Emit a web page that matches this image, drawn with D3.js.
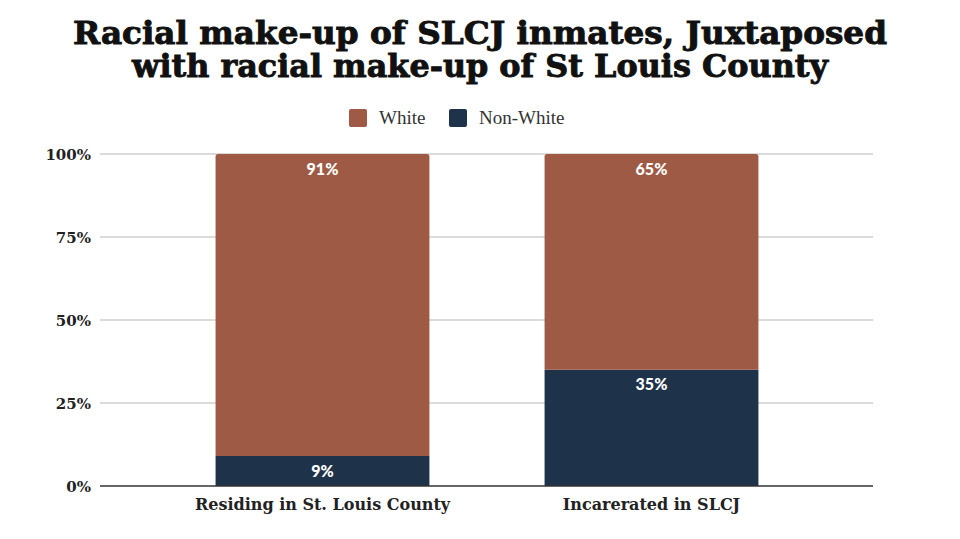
<!DOCTYPE html>
<html><head><meta charset="utf-8">
<script src="https://cdn.jsdelivr.net/npm/d3@7"></script>
<style>body{margin:0;background:#fff}svg{display:block}</style>
</head><body>
<svg id="c" width="960" height="539"></svg>
<script>
const categories = ["Residing in St. Louis County", "Incarerated in SLCJ"];
const seriesNames = ["Non-White", "White"];
const nonWhite = [9, 35];
const white = [91, 65];
const yTicks = [0, 25, 50, 75, 100];
const titleLines = ["Racial make-up of SLCJ inmates, Juxtaposed", "with racial make-up of St Louis County"];
const colors = {"White": "#9e5a45", "Non-White": "#1e3249"};

const svg = d3.select("#c");
const serif = "'DejaVu Serif', Georgia, serif";

// title
svg.selectAll("text.title").data(titleLines).join("text")
  .attr("class","title")
  .attr("x", 480).attr("y", (d,i)=> 44 + i*33)
  .attr("text-anchor","middle")
  .attr("font-family","'DejaVu Serif', serif")
  .attr("font-weight","bold")
  .attr("font-size", 31)
  .attr("fill","#111")
  .attr("stroke","#111").attr("stroke-width",0.9)
  .attr("textLength", (d,i)=> i===0 ? 814 : 696)
  .attr("lengthAdjust","spacingAndGlyphs")
  .text(d=>d);

// legend
const legendItems = [{name:"White", x:349}, {name:"Non-White", x:449}];
const lg = svg.selectAll("g.lg").data(legendItems).join("g").attr("class","lg")
  .attr("transform", d=>`translate(${d.x},109)`);
lg.append("rect").attr("width",18).attr("height",18).attr("rx",2).attr("fill", d=>colors[d.name]);
lg.append("text").attr("x",30).attr("y",15)
  .attr("font-family","'Liberation Serif', serif").attr("font-size",19).attr("fill","#333")
  .text(d=>d.name);

const x = d3.scaleBand().domain(categories).range([158, 816]).paddingInner(0.35).paddingOuter(0.175);
const y = d3.scaleLinear().domain([0,100]).range([486, 154]);

// gridlines
svg.append("g").selectAll("line").data(yTicks.filter(t=>t>0)).join("line")
  .attr("x1",100).attr("x2",873).attr("y1",d=>y(d)).attr("y2",d=>y(d))
  .attr("stroke","#cfcfcf").attr("stroke-width",1.5);

// y axis labels
const yAxis = d3.axisLeft(y).tickValues(yTicks).tickFormat(d=>d+"%").tickSize(0).tickPadding(0);
const ya = svg.append("g").attr("transform","translate(91,0)").call(yAxis);
ya.select(".domain").remove();
ya.selectAll("text").attr("font-family", serif).attr("font-weight","bold")
  .attr("font-size",15).attr("fill","#222").attr("dy","0.35em");

// stacked data
const rows = categories.map((c,i)=>({cat:c, "Non-White":nonWhite[i], "White":white[i]}));
const stack = d3.stack().keys(seriesNames)(rows);

const groups = svg.append("g").selectAll("g").data(stack).join("g").attr("fill", d=>colors[d.key]);
groups.selectAll("path").data(d=>d.map(v=>({v, key:d.key}))).join("path")
  .attr("d", d=>{
    const x0 = x(d.v.data.cat), w = x.bandwidth();
    const top = y(d.v[1]), bot = y(d.v[0]);
    const r = d.key==="White" ? 2.5 : 0;
    return `M${x0},${bot}V${top+r}Q${x0},${top} ${x0+r},${top}H${x0+w-r}Q${x0+w},${top} ${x0+w},${top+r}V${bot}Z`;
  });

// bar labels
stack.forEach(s=>{
  svg.append("g").selectAll("text").data(s).join("text")
    .attr("x", d=>x(d.data.cat)+x.bandwidth()/2)
    .attr("y", d=>y(d[1]) + 15)
    .attr("dy","0.35em")
    .attr("text-anchor","middle")
    .attr("font-family","Lato, 'Open Sans', sans-serif").attr("font-weight",900)
    .attr("font-size",16).attr("fill","#fff")
    .text(d=>(d[1]-d[0])+"%");
});

// baseline
svg.append("line").attr("x1",100).attr("x2",873).attr("y1",y(0)).attr("y2",y(0))
  .attr("stroke","#333").attr("stroke-width",1.5);

// x axis labels
const xAxis = d3.axisBottom(x).tickSize(0).tickPadding(0);
const xa = svg.append("g").attr("transform",`translate(0,${y(0)})`).call(xAxis);
xa.select(".domain").remove();
xa.selectAll("text").attr("font-family", serif).attr("font-weight","bold")
  .attr("font-size",16).attr("fill","#222").attr("dy",null).attr("y",24);
</script>
</body></html>
